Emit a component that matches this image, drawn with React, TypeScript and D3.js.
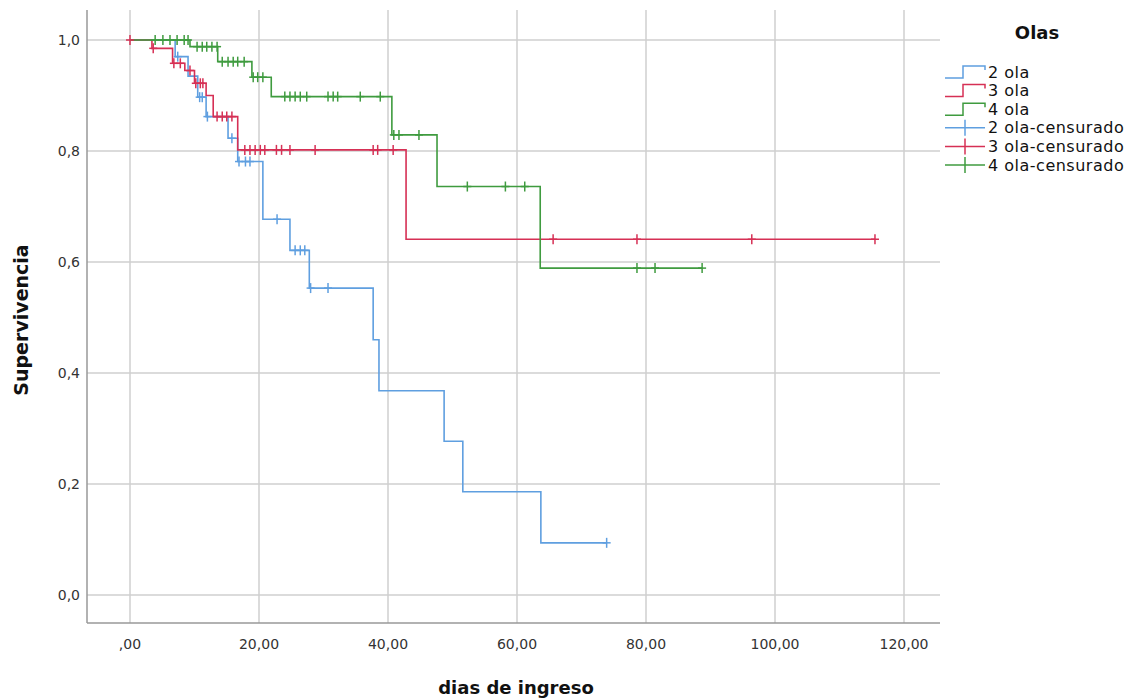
import React from "react";
import * as d3 from "d3";

// ---- Data ----
const xTicks = [0, 20, 40, 60, 80, 100, 120];
const xTickLabels = [",00", "20,00", "40,00", "60,00", "80,00", "100,00", "120,00"];
const yTicks = [0, 0.2, 0.4, 0.6, 0.8, 1.0];
const yTickLabels = ["0,0", "0,2", "0,4", "0,6", "0,8", "1,0"];

// 2 ola
const wave2Times = [0, 7, 9, 10.5, 11.8, 15.2, 16.7, 20.6, 24.8, 27.8, 37.7, 38.6, 48.7, 51.6, 63.7, 73.9];
const wave2Surv = [1, 0.97, 0.935, 0.897, 0.862, 0.823, 0.781, 0.677, 0.621, 0.553, 0.46, 0.368, 0.277, 0.186, 0.094, 0.094];
const wave2Censored = [7.4, 10.8, 11.2, 12.0, 15.8, 16.9, 17.9, 18.6, 22.8, 25.6, 26.4, 27.1, 28.0, 30.7, 73.9];

// 3 ola
const wave3Times = [0, 3.4, 6.6, 8.5, 10.0, 11.8, 12.9, 16.7, 42.8, 115.5];
const wave3Surv = [1, 0.985, 0.958, 0.945, 0.922, 0.9, 0.862, 0.802, 0.641, 0.641];
const wave3Censored = [0, 3.6, 6.8, 7.8, 9.3, 10.2, 10.9, 11.3, 13.5, 14.3, 15.0, 15.8, 17.8, 18.6, 19.4, 20.2, 20.9, 22.7, 23.5, 24.8, 28.7, 37.7, 38.4, 40.8, 65.6, 78.6, 96.4, 115.5];

// 4 ola
const wave4Times = [0, 9.3, 13.6, 18.9, 21.9, 40.6, 47.6, 63.6, 88.7];
const wave4Surv = [1, 0.988, 0.961, 0.933, 0.898, 0.829, 0.736, 0.589, 0.589];
const wave4Censored = [3.9, 5.1, 6.2, 7.3, 8.4, 9.0, 10.4, 11.2, 11.9, 12.7, 13.5, 14.3, 15.2, 16.0, 16.7, 17.7, 19.1, 19.8, 20.6, 24.0, 24.8, 25.6, 26.4, 27.4, 30.7, 31.5, 32.2, 35.7, 38.8, 40.9, 41.7, 44.8, 52.3, 58.2, 61.2, 78.6, 81.4, 88.7];

const seriesNames = ["2 ola", "3 ola", "4 ola"];
const seriesColors = ["#5f9fe0", "#d63055", "#3f9b3f"];

const series = [
  { name: seriesNames[0], color: seriesColors[0], times: wave2Times, surv: wave2Surv, cens: wave2Censored },
  { name: seriesNames[1], color: seriesColors[1], times: wave3Times, surv: wave3Surv, cens: wave3Censored },
  { name: seriesNames[2], color: seriesColors[2], times: wave4Times, surv: wave4Surv, cens: wave4Censored },
];

const W = 1147;
const H = 699;
const plot = { left: 87, right: 940, top: 10, bottom: 623 };
const FONT = "'DejaVu Sans', sans-serif";

function survAt(times: number[], surv: number[], t: number) {
  let v = surv[0];
  for (let i = 0; i < times.length; i++) {
    if (times[i] <= t) v = surv[i];
  }
  return v;
}

export default function App() {
  const x = d3.scaleLinear().domain([0, 120]).range([130, 904]);
  const y = d3.scaleLinear().domain([0, 1]).range([595, 40]);
  const line = d3
    .line<[number, number]>()
    .x((d) => x(d[0]))
    .y((d) => y(d[1]))
    .curve(d3.curveStepAfter);

  const gridColor = "#cfcfcf";
  const legendX = 945;
  const legendY0 = 72;
  const legendDy = 18.6;
  const iconW = 40;

  return (
    <svg
      width={W}
      height={H}
      style={{ position: "absolute", left: 0, top: 0, background: "#fff" }}
      fontFamily={FONT}
    >
      {/* grid */}
      {yTicks.map((t) => (
        <line key={"gy" + t} x1={plot.left} x2={plot.right} y1={y(t)} y2={y(t)} stroke={gridColor} strokeWidth={1.5} />
      ))}
      {xTicks.map((t) => (
        <line key={"gx" + t} x1={x(t)} x2={x(t)} y1={plot.top} y2={plot.bottom} stroke={gridColor} strokeWidth={1.5} />
      ))}
      {/* axes */}
      <line x1={plot.left} x2={plot.left} y1={plot.top} y2={plot.bottom} stroke="#999" strokeWidth={1.5} />
      <line x1={plot.left} x2={plot.right} y1={plot.bottom} y2={plot.bottom} stroke="#999" strokeWidth={1.5} />

      {/* tick labels */}
      {yTicks.map((t, i) => (
        <text key={"ly" + t} x={80} y={y(t)} dy="0.35em" textAnchor="end" fontSize={14} fill="#333">
          {yTickLabels[i]}
        </text>
      ))}
      {xTicks.map((t, i) => (
        <text key={"lx" + t} x={x(t)} y={644} dy="0.35em" textAnchor="middle" fontSize={14} fill="#333">
          {xTickLabels[i]}
        </text>
      ))}

      {/* axis titles */}
      <text x={516} y={694} textAnchor="middle" fontSize={18} fontWeight="bold" fill="#111">
        dias de ingreso
      </text>
      <text
        transform={`translate(28,320) rotate(-90)`}
        textAnchor="middle"
        fontSize={19}
        fontWeight="bold"
        fill="#111"
      >
        Supervivencia
      </text>

      {/* curves */}
      {series.map((s) => {
        const pts: [number, number][] = s.times.map((t, i) => [t, s.surv[i]]);
        return <path key={s.name} d={line(pts) || ""} fill="none" stroke={s.color} strokeWidth={1.6} />;
      })}
      {/* censor marks */}
      {series.map((s) =>
        s.cens.map((c, i) => {
          const cx = x(c);
          const cy = y(survAt(s.times, s.surv, c));
          return (
            <g key={s.name + "c" + i} stroke={s.color} strokeWidth={1.5}>
              <line x1={cx} x2={cx} y1={cy - 5} y2={cy + 5} />
              <line x1={cx - 4} x2={cx + 4} y1={cy} y2={cy} />
            </g>
          );
        })
      )}

      {/* legend */}
      <text x={1037} y={39} textAnchor="middle" fontSize={18} fontWeight="bold" fill="#111">
        Olas
      </text>
      {series.map((s, i) => {
        const cy = legendY0 + i * legendDy;
        return (
          <g key={"lg" + i}>
            <path
              d={`M${legendX},${cy + 6} H${legendX + iconW * 0.45} V${cy - 6} H${legendX + iconW} V${cy - 2}`}
              fill="none"
              stroke={s.color}
              strokeWidth={1.5}
            />
            <text x={legendX + iconW + 3} y={cy} dy="0.35em" fontSize={16} letterSpacing={0.5} fill="#111">
              {s.name}
            </text>
          </g>
        );
      })}
      {series.map((s, i) => {
        const cy = legendY0 + (i + 3) * legendDy;
        return (
          <g key={"lc" + i}>
            <line x1={legendX} x2={legendX + iconW} y1={cy} y2={cy} stroke={s.color} strokeWidth={1.5} />
            <line x1={legendX + iconW / 2} x2={legendX + iconW / 2} y1={cy - 8} y2={cy + 8} stroke={s.color} strokeWidth={1.5} />
            <text x={legendX + iconW + 3} y={cy} dy="0.35em" fontSize={16} letterSpacing={0.5} fill="#111">
              {s.name + "-censurado"}
            </text>
          </g>
        );
      })}
    </svg>
  );
}
